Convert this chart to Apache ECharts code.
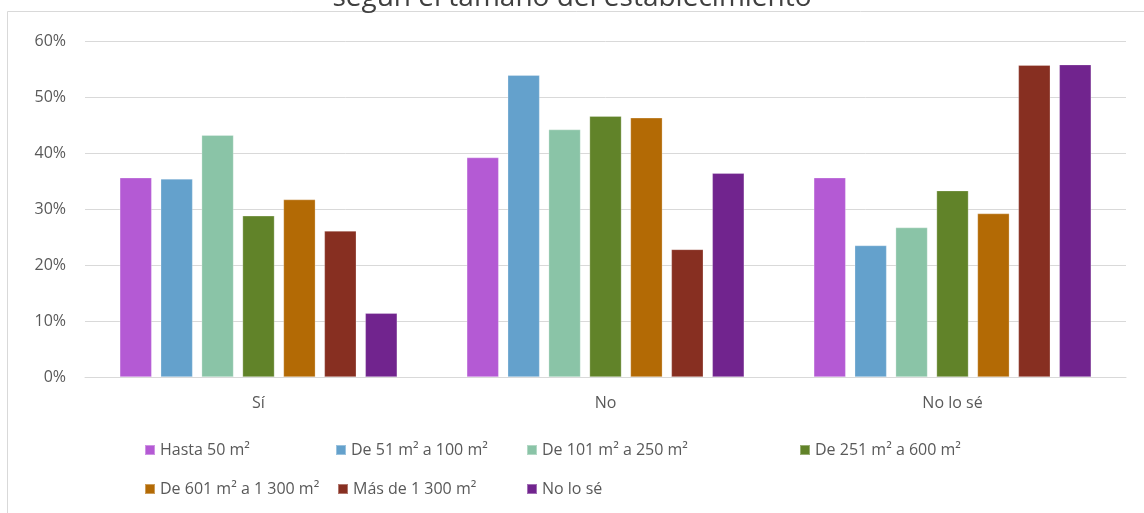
<!DOCTYPE html>
<html>
<head>
<meta charset="utf-8">
<script src="https://cdn.jsdelivr.net/npm/echarts@6/dist/echarts.min.js"></script>
<style>
html,body{margin:0;padding:0;background:#fff;}
#chart{width:1144px;height:513px;}
</style>
</head>
<body>
<div id="chart"></div>
<script>
const titleText = 'según el tamaño del establecimiento';
const categories = ['Sí', 'No', 'No lo sé'];
const seriesNames = ['Hasta 50 m²', 'De 51 m² a 100 m²', 'De 101 m² a 250 m²', 'De 251 m² a 600 m²', 'De 601 m² a 1 300 m²', 'Más de 1 300 m²', 'No lo sé'];
const hasta50 = [35.6, 39.2, 35.6];
const de51a100 = [35.4, 53.9, 23.5];
const de101a250 = [43.2, 44.2, 26.7];
const de251a600 = [28.8, 46.6, 33.3];
const de601a1300 = [31.7, 46.3, 29.2];
const masDe1300 = [26.1, 22.8, 55.7];
const noLoSe = [11.4, 36.4, 55.8];
const yTicks = [0, 10, 20, 30, 40, 50, 60];

const seriesValues = [hasta50, de51a100, de101a250, de251a600, de601a1300, masDe1300, noLoSe];
const colors = ['#B45AD4', '#64A1CC', '#8AC4A7', '#618329', '#B36A05', '#872F21', '#71248E'];
const legendPos = [[144, 440], [335, 440], [526, 440], [799, 440], [144, 479], [337, 479], [526, 479]];
const FONT = '"Open Sans", "Noto Sans", sans-serif';
const TXT = '#595959';

const chart = echarts.init(document.getElementById('chart'), null, {renderer: 'canvas'});
chart.setOption({
  animation: false,
  backgroundColor: '#fff',
  title: {
    text: titleText,
    left: 'center',
    top: -21,
    textStyle: {fontFamily: FONT, fontSize: 28, fontWeight: 'normal', color: '#404040'}
  },
  graphic: [{
    type: 'rect', silent: true,
    shape: {x: 7.5, y: 11.5, width: 1200, height: 600},
    style: {fill: 'none', stroke: '#d9d9d9', lineWidth: 1}
  }],
  legend: seriesNames.map((n, i) => ({
    data: [n],
    left: legendPos[i][0],
    top: legendPos[i][1],
    padding: 0,
    icon: 'rect',
    itemWidth: 10,
    itemHeight: 10,
    textStyle: {fontFamily: FONT, fontSize: 16, color: TXT, lineHeight: 20}
  })),
  grid: {left: 85, right: 18, top: 41, bottom: 136, containLabel: false},
  xAxis: {
    type: 'category',
    data: categories,
    axisLine: {lineStyle: {color: '#d9d9d9', width: 1}},
    axisTick: {show: false},
    axisLabel: {fontFamily: FONT, fontSize: 16, color: TXT, margin: 18}
  },
  yAxis: {
    type: 'value',
    min: yTicks[0],
    max: yTicks[yTicks.length - 1],
    interval: 10,
    axisLine: {show: false},
    axisTick: {show: false},
    splitLine: {lineStyle: {color: '#d9d9d9', width: 1}},
    axisLabel: {fontFamily: FONT, fontSize: 16, color: TXT, margin: 19, formatter: v => v + '%'}
  },
  series: seriesNames.map((n, i) => ({
    name: n,
    type: 'bar',
    data: seriesValues[i],
    barGap: '27.5%',
    barCategoryGap: '20%',
    itemStyle: {color: colors[i], borderColor: 'rgba(255,255,255,0.35)', borderWidth: 0.75}
  }))
});
</script>
</body>
</html>
